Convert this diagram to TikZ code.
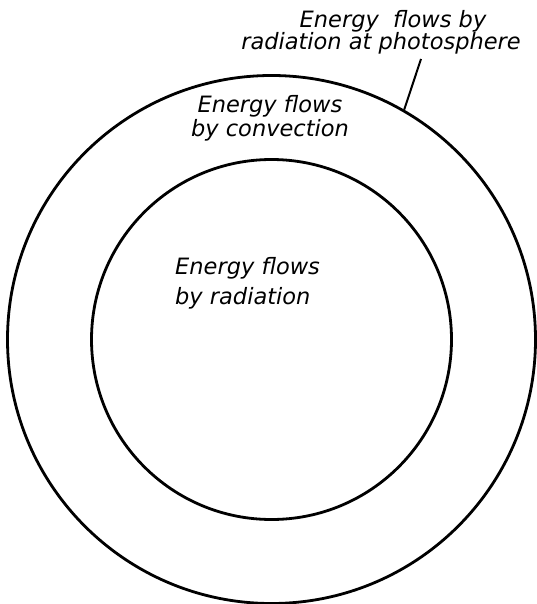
\documentclass[tikz,border=0pt]{standalone}
\usepackage{fontspec}
\newfontfamily\lettering{DejaVu Sans}
\usepackage{tikz}
\usetikzlibrary{positioning}

\begin{document}
\begin{tikzpicture}[
  x=1pt, y=-1pt,
  ring/.style={
    circle, draw=black, line width=2.8pt, inner sep=0pt
  },
  lbl/.style={
    inner sep=0pt, align=center,
    font=\lettering\itshape\fontsize{22.5}{22}\selectfont
  },
  lead/.style={draw=black, line width=2pt}
]
\useasboundingbox (0,0) rectangle (536,604);

\coordinate (centre) at (271.5,339.5);

% the two shells
\node[ring, minimum size=528pt] (photosphere) at (centre) {};
\node[ring, minimum size=360pt] (core) at (centre) {};

% labels
\node[lbl] (surface) at (381,32) {\hspace*{24pt}Energy\ \ flows by\\radiation at photosphere};
\node[lbl, font=\lettering\itshape\fontsize{22.5}{24}\selectfont] (zone) at (270,118) {Energy flows\\by convection};
\node[lbl, align=left, anchor=west, font=\lettering\itshape\fontsize{22.5}{30}\selectfont] (inner) at (175,283) {Energy flows\\by radiation};

\coordinate (leadtop) at (421,59);
\draw[lead] (leadtop) -- (photosphere.60);

\end{tikzpicture}
\end{document}
